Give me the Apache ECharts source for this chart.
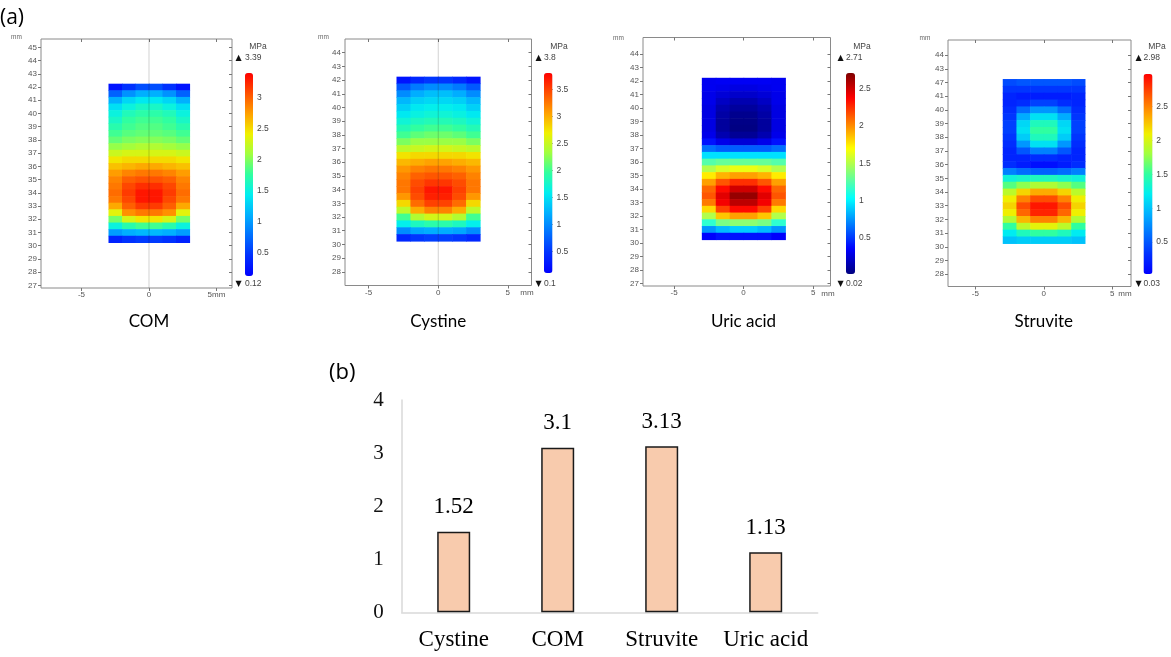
<!DOCTYPE html>
<html>
<head>
<meta charset="utf-8">
<script src="https://cdn.jsdelivr.net/npm/echarts@6/dist/echarts.min.js"></script>
<style>html,body{margin:0;padding:0;background:#fff}#c{width:1171px;height:657px}</style>
</head>
<body>
<div id="c"></div>
<script>
// ---------------- DATA ----------------
const panelNames = ['COM', 'Cystine', 'Uric acid', 'Struvite'];
const rangeMin = [0.12, 0.1, 0.02, 0.03];
const rangeMax = [3.39, 3.8, 2.71, 2.98];
const minLabels = ['0.12', '0.1', '0.02', '0.03'];
const maxLabels = ['3.39', '3.8', '2.71', '2.98'];
const colorbarTicks = [
  [0.5, 1, 1.5, 2, 2.5, 3],
  [0.5, 1, 1.5, 2, 2.5, 3, 3.5],
  [0.5, 1, 1.5, 2, 2.5],
  [0.5, 1, 1.5, 2, 2.5]
];
const xTickValues = [-5, 0, 5];
const xTickLabelsCOM = ['-5', '0', '5mm'];
const xTickLabelsOther = ['-5', '0', '5'];
const yTicksCOM = [27,28,29,30,31,32,33,34,35,36,37,38,39,40,41,42,43,44,45];
const yTicksCystine = [28,29,30,31,32,33,34,35,36,37,38,39,40,41,42,43,44];
const yTicksUric = [27,28,29,30,31,32,33,34,35,36,37,38,39,40,41,42,43,44];
const yTicksStruvite = [28,29,30,31,32,33,34,35,36,37,38,39,40,41,42,43,44];
const yTickLabelsStruvite = ['28','29','30','31','32','33','34','35','36','37','38','39','40','41','47','43','44'];

// cell centres (mm)
const xCenters = [-2.5, -1.5, -0.5, 0.5, 1.5, 2.5];
const yCenters = [42, 41.5, 41, 40.5, 40, 39.5, 39, 38.5, 38, 37.5, 37, 36.5,
                  36, 35.5, 35, 34.5, 34, 33.5, 33, 32.5, 32, 31.5, 31, 30.5];

// von Mises stress (MPa), rows top -> bottom, columns left -> right
const stressCOM = [
  [0.25,0.45,0.6,0.6,0.45,0.25],
  [0.7,0.95,1.1,1.1,0.95,0.7],
  [1.1,1.3,1.4,1.4,1.3,1.1],
  [1.35,1.5,1.6,1.6,1.5,1.35],
  [1.5,1.65,1.72,1.72,1.65,1.5],
  [1.6,1.75,1.8,1.8,1.75,1.6],
  [1.7,1.8,1.85,1.85,1.8,1.7],
  [1.8,1.87,1.9,1.9,1.87,1.8],
  [1.9,1.97,2.0,2.0,1.97,1.9],
  [2.05,2.1,2.15,2.15,2.1,2.05],
  [2.25,2.3,2.3,2.3,2.3,2.25],
  [2.45,2.5,2.5,2.5,2.5,2.45],
  [2.6,2.65,2.7,2.7,2.65,2.6],
  [2.75,2.85,2.9,2.9,2.85,2.75],
  [2.85,3.0,3.05,3.05,3.0,2.85],
  [2.9,3.1,3.2,3.2,3.1,2.9],
  [2.95,3.15,3.3,3.3,3.15,2.95],
  [2.9,3.1,3.3,3.3,3.1,2.9],
  [2.7,3.0,3.15,3.15,3.0,2.7],
  [2.35,2.8,2.9,2.9,2.8,2.35],
  [1.95,2.3,2.45,2.45,2.3,1.95],
  [1.5,1.7,1.8,1.8,1.7,1.5],
  [1.0,1.1,1.15,1.15,1.1,1.0],
  [0.35,0.45,0.5,0.5,0.45,0.35]
];
const stressCystine = [
  [0.25,0.4,0.5,0.5,0.4,0.25],
  [0.7,0.9,1.0,1.0,0.9,0.7],
  [1.0,1.2,1.3,1.3,1.2,1.0],
  [1.25,1.4,1.45,1.45,1.4,1.25],
  [1.4,1.55,1.6,1.6,1.55,1.4],
  [1.55,1.65,1.7,1.7,1.65,1.55],
  [1.7,1.8,1.85,1.85,1.8,1.7],
  [1.85,1.95,2.0,2.0,1.95,1.85],
  [2.0,2.1,2.15,2.15,2.1,2.0],
  [2.2,2.3,2.3,2.3,2.3,2.2],
  [2.45,2.5,2.55,2.55,2.5,2.45],
  [2.75,2.8,2.8,2.8,2.8,2.75],
  [2.95,3.0,3.05,3.05,3.0,2.95],
  [3.1,3.2,3.25,3.25,3.2,3.1],
  [3.2,3.35,3.4,3.4,3.35,3.2],
  [3.25,3.45,3.55,3.55,3.45,3.25],
  [3.25,3.5,3.7,3.7,3.5,3.25],
  [3.1,3.45,3.65,3.65,3.45,3.1],
  [2.8,3.3,3.5,3.5,3.3,2.8],
  [2.45,3.0,3.2,3.2,3.0,2.45],
  [2.0,2.4,2.55,2.55,2.4,2.0],
  [1.6,1.8,1.9,1.9,1.8,1.6],
  [1.0,1.15,1.2,1.2,1.15,1.0],
  [0.4,0.5,0.55,0.55,0.5,0.4]
];
const stressUric = [
  [0.32,0.33,0.33,0.33,0.33,0.32],
  [0.32,0.3,0.28,0.28,0.3,0.32],
  [0.3,0.25,0.22,0.22,0.25,0.3],
  [0.3,0.2,0.15,0.15,0.2,0.3],
  [0.28,0.15,0.1,0.1,0.15,0.28],
  [0.28,0.12,0.06,0.06,0.12,0.28],
  [0.28,0.1,0.04,0.04,0.1,0.28],
  [0.28,0.1,0.03,0.03,0.1,0.28],
  [0.3,0.15,0.08,0.08,0.15,0.3],
  [0.4,0.3,0.25,0.25,0.3,0.4],
  [0.65,0.6,0.6,0.6,0.6,0.65],
  [0.95,0.95,0.95,0.95,0.95,0.95],
  [1.25,1.3,1.3,1.3,1.3,1.25],
  [1.5,1.6,1.65,1.65,1.6,1.5],
  [1.75,1.9,1.95,1.95,1.9,1.75],
  [1.95,2.15,2.25,2.25,2.15,1.95],
  [2.1,2.35,2.5,2.5,2.35,2.1],
  [2.15,2.45,2.65,2.65,2.45,2.15],
  [2.05,2.4,2.55,2.55,2.4,2.05],
  [1.8,2.2,2.35,2.35,2.2,1.8],
  [1.5,1.85,1.95,1.95,1.85,1.5],
  [1.15,1.35,1.4,1.4,1.35,1.15],
  [0.75,0.85,0.9,0.9,0.85,0.75],
  [0.35,0.4,0.4,0.4,0.4,0.35]
];
const stressStruvite = [
  [0.45,0.5,0.5,0.5,0.5,0.45],
  [0.35,0.35,0.35,0.35,0.35,0.35],
  [0.25,0.2,0.2,0.2,0.2,0.25],
  [0.25,0.3,0.4,0.4,0.3,0.25],
  [0.3,0.6,0.8,0.8,0.6,0.3],
  [0.35,0.9,1.15,1.15,0.9,0.35],
  [0.4,1.1,1.4,1.4,1.1,0.4],
  [0.4,1.15,1.5,1.5,1.15,0.4],
  [0.35,1.05,1.4,1.4,1.05,0.35],
  [0.3,0.8,1.15,1.15,0.8,0.3],
  [0.25,0.5,0.7,0.7,0.5,0.25],
  [0.25,0.25,0.3,0.3,0.25,0.25],
  [0.3,0.2,0.12,0.12,0.2,0.3],
  [0.7,0.6,0.55,0.55,0.6,0.7],
  [1.3,1.35,1.4,1.4,1.35,1.3],
  [1.6,1.75,1.85,1.85,1.75,1.6],
  [1.9,2.2,2.35,2.35,2.2,1.9],
  [2.1,2.5,2.7,2.7,2.5,2.1],
  [2.2,2.7,2.9,2.9,2.7,2.2],
  [2.1,2.6,2.85,2.85,2.6,2.1],
  [1.85,2.3,2.5,2.5,2.3,1.85],
  [1.5,1.9,2.05,2.05,1.9,1.5],
  [1.2,1.4,1.5,1.5,1.4,1.2],
  [1.0,1.05,1.05,1.05,1.05,1.0]
];

// bar chart (b)
const barCategories = ['Cystine', 'COM', 'Struvite', 'Uric acid'];
const barValues = [1.52, 3.1, 3.13, 1.13];

// ---------------- LAYOUT / STYLE ----------------
const rainbow = ['#0000ff','#0030ff','#0070ff','#00b0ff','#00eef0','#30ffa0','#a0ff40','#f0f000','#ffa000','#ff5000','#ff0000'];
const jet = ['#00007f','#0000ff','#007fff','#00ffff','#7fff7f','#ffff00','#ff7f00','#ff0000','#7f0000'];

const panels = [
  { rows: stressCOM, colors: rainbow, grid: {left: 41, top: 39, width: 191, height: 249}, xr: [-8.0, 6.15], yr: [26.8, 45.63],
    yTicks: yTicksCOM, yLabels: yTicksCOM.map(String), xLabels: xTickLabelsCOM, centerLine: true,
    bar: {left: 245, top: 73, w: 8, h: 203}, yUnit: [16.5, 37.5], xUnit: null, tri: 238.5, mpa: 258 },
  { rows: stressCystine, colors: rainbow, grid: {left: 345, top: 39, width: 186.5, height: 246.5}, xr: [-6.7, 6.7], yr: [27, 45],
    yTicks: yTicksCystine, yLabels: yTicksCystine.map(String), xLabels: xTickLabelsOther, centerLine: true,
    bar: {left: 544, top: 73, w: 8.5, h: 200}, yUnit: [323.5, 37.5], xUnit: [527, 293], tri: 538.5, mpa: 559 },
  { rows: stressUric, colors: jet, grid: {left: 643, top: 37.5, width: 187.5, height: 248.5}, xr: [-7.23, 6.25], yr: [26.8, 45.24],
    yTicks: yTicksUric, yLabels: yTicksUric.map(String), xLabels: xTickLabelsOther, centerLine: false,
    bar: {left: 846, top: 73, w: 9, h: 201}, yUnit: [618.5, 38], xUnit: [828, 294], tri: 840.5, mpa: 862 },
  { rows: stressStruvite, colors: rainbow, grid: {left: 948, top: 40, width: 183, height: 246.5}, xr: [-7.0, 6.37], yr: [27.1, 45.1],
    yTicks: yTicksStruvite, yLabels: yTickLabelsStruvite, xLabels: xTickLabelsOther, centerLine: false,
    bar: {left: 1143.5, top: 74, w: 9, h: 200}, yUnit: [925, 38], xUnit: [1125, 294], tri: 1138.5, mpa: 1157 }
];

function cells(rows) {
  const out = [];
  rows.forEach((r, i) => r.forEach((v, j) => out.push([xCenters[j], yCenters[i], v])));
  return out;
}
function renderCell(params, api) {
  const x = api.value(0), y = api.value(1);
  const a = api.coord([x - 0.5, y + 0.25]);
  const b = api.coord([x + 0.5, y - 0.25]);
  return { type: 'rect', shape: { x: a[0], y: a[1], width: b[0] - a[0] + 0.6, height: b[1] - a[1] + 0.6 },
           style: { fill: api.visual('color') } };
}

const axisFont = { fontFamily: 'Liberation Sans', fontSize: 8, color: '#555' };
const noLine = { show: false, onZero: false };
const grids = [], xAxes = [], yAxes = [], series = [], visualMaps = [], graphics = [];

panels.forEach((p, i) => {
  grids.push(Object.assign({ show: true, borderColor: '#8a8a8a', borderWidth: 1, backgroundColor: 'transparent' }, p.grid));
  const xl = {}; xTickValues.forEach((v, k) => xl[v] = p.xLabels[k]);
  const yl = {}; p.yTicks.forEach((v, k) => yl[v] = p.yLabels[k]);
  xAxes.push({ type: 'value', gridIndex: i, min: p.xr[0], max: p.xr[1], position: 'bottom',
    axisLine: noLine, splitLine: { show: false },
    axisTick: { show: true, customValues: xTickValues, length: 3, lineStyle: { color: '#777' } },
    axisLabel: Object.assign({ customValues: xTickValues, margin: 3, formatter: v => xl[v] }, axisFont) });
  xAxes.push({ type: 'value', gridIndex: i, min: p.xr[0], max: p.xr[1], position: 'top',
    axisLine: noLine, splitLine: { show: false }, axisLabel: { show: false },
    axisTick: { show: true, inside: true, customValues: xTickValues, length: 3, lineStyle: { color: '#777' } } });
  yAxes.push({ type: 'value', gridIndex: i, min: p.yr[0], max: p.yr[1], position: 'left',
    axisLine: noLine, splitLine: { show: false },
    axisTick: { show: true, customValues: p.yTicks, length: 3, lineStyle: { color: '#777' } },
    axisLabel: Object.assign({ customValues: p.yTicks, margin: 4, formatter: v => yl[v] }, axisFont) });
  yAxes.push({ type: 'value', gridIndex: i, min: p.yr[0], max: p.yr[1], position: 'right',
    axisLine: noLine, splitLine: { show: false }, axisLabel: { show: false },
    axisTick: { show: true, inside: true, customValues: p.yTicks, length: 3, lineStyle: { color: '#777' } } });

  series.push({ type: 'custom', name: panelNames[i], xAxisIndex: 2 * i, yAxisIndex: 2 * i,
    renderItem: renderCell, data: cells(p.rows), encode: { x: 0, y: 1 }, silent: true, z: 2 });
  const cellSeriesIndex = series.length - 1;

  if (p.centerLine) {
    series.push({ type: 'line', xAxisIndex: 2 * i, yAxisIndex: 2 * i, data: [[0, p.yr[0]], [0, p.yr[1]]],
      symbol: 'none', silent: true, z: 5, lineStyle: { color: 'rgba(0,0,0,0.18)', width: 1 } });
  }

  visualMaps.push({ type: 'continuous', seriesIndex: cellSeriesIndex, dimension: 2,
    min: rangeMin[i], max: rangeMax[i], inRange: { color: p.colors }, calculable: false, realtime: false,
    left: p.bar.left, top: p.bar.top, itemWidth: p.bar.w, itemHeight: p.bar.h, padding: 0, text: null,
    hoverLink: false });

  graphics.push({ type: 'text', x: p.yUnit[0], y: p.yUnit[1], style: { text: 'mm', fill: '#666', font: '6.5px "Liberation Sans"', align: 'center', verticalAlign: 'middle' } });
  if (p.xUnit) graphics.push({ type: 'text', x: p.xUnit[0], y: p.xUnit[1], style: { text: 'mm', fill: '#555', font: '8px "Liberation Sans"', align: 'center', verticalAlign: 'middle' } });
  graphics.push({ type: 'text', x: p.mpa, y: 47, style: { text: 'MPa', fill: '#444', font: '8.5px "Liberation Sans"', align: 'center', verticalAlign: 'middle' } });
  graphics.push({ type: 'text', x: p.tri, y: 57.5, style: { text: '\u25B2', fill: '#111', font: '8px "DejaVu Sans"', align: 'center', verticalAlign: 'middle' } });
  graphics.push({ type: 'text', x: p.bar.left, y: 57.5, style: { text: maxLabels[i], fill: '#444', font: '8.5px "Liberation Sans"', align: 'left', verticalAlign: 'middle' } });
  graphics.push({ type: 'text', x: p.tri, y: 284, style: { text: '\u25BC', fill: '#111', font: '8px "DejaVu Sans"', align: 'center', verticalAlign: 'middle' } });
  graphics.push({ type: 'text', x: p.bar.left, y: 284, style: { text: minLabels[i], fill: '#444', font: '8.5px "Liberation Sans"', align: 'left', verticalAlign: 'middle' } });
  const cx = p.grid.left + p.grid.width * (0 - p.xr[0]) / (p.xr[1] - p.xr[0]);
  graphics.push({ type: 'text', x: cx, y: 322, style: { text: panelNames[i], fill: '#000', font: '17px Lato', align: 'center', verticalAlign: 'middle' } });
});

// colour bar tick labels (grids 4..7)
panels.forEach((p, i) => {
  grids.push({ left: p.bar.left, top: p.bar.top, width: p.bar.w, height: p.bar.h, show: false });
  xAxes.push({ type: 'value', gridIndex: 4 + i, show: false, min: 0, max: 1 });
  yAxes.push({ type: 'value', gridIndex: 4 + i, position: 'right', min: rangeMin[i], max: rangeMax[i],
    axisLine: noLine, splitLine: { show: false },
    axisTick: { show: true, inside: true, customValues: colorbarTicks[i], length: 2, lineStyle: { color: '#333' } },
    axisLabel: { customValues: colorbarTicks[i], margin: 4, fontFamily: 'Liberation Sans', fontSize: 8.5, color: '#444' } });
});

// bar chart grid 8
grids.push({ left: 401.7, top: 400, width: 416, height: 212.3 });
xAxes.push({ type: 'category', gridIndex: 8, data: barCategories,
  axisLine: { show: true, onZero: false, lineStyle: { color: '#d9d9d9', width: 1.5 } }, axisTick: { show: false },
  axisLabel: { interval: 0, fontFamily: 'Liberation Serif', fontSize: 23, color: '#000', margin: 16 } });
yAxes.push({ type: 'value', gridIndex: 8, min: 0, max: 4, interval: 1,
  axisLine: { show: true, onZero: false, lineStyle: { color: '#d9d9d9', width: 1.5 } }, axisTick: { show: false }, splitLine: { show: false },
  axisLabel: { fontFamily: 'Liberation Serif', fontSize: 21, color: '#111', margin: 18 } });
series.push({ type: 'bar', xAxisIndex: 12, yAxisIndex: 12, data: barValues, barWidth: 33,
  itemStyle: { color: '#F8CBAD', borderColor: '#1a1a1a', borderWidth: 1.5 },
  label: { show: true, position: 'top', distance: 13, fontFamily: 'Liberation Serif', fontSize: 23, color: '#000' },
  silent: true });

graphics.push({ type: 'text', x: 0, y: 18, style: { text: '(a)', fill: '#000', font: '21px "Open Sans"', align: 'left', verticalAlign: 'middle' } });
graphics.push({ type: 'text', x: 329, y: 373, style: { text: '(b)', fill: '#000', font: '22px "Open Sans"', align: 'left', verticalAlign: 'middle' } });

const chart = echarts.init(document.getElementById('c'), null, { renderer: 'canvas' });
chart.setOption({
  animation: false,
  backgroundColor: '#fff',
  grid: grids, xAxis: xAxes, yAxis: yAxes, series: series, visualMap: visualMaps,
  graphic: { elements: graphics }
});
</script>
</body>
</html>
